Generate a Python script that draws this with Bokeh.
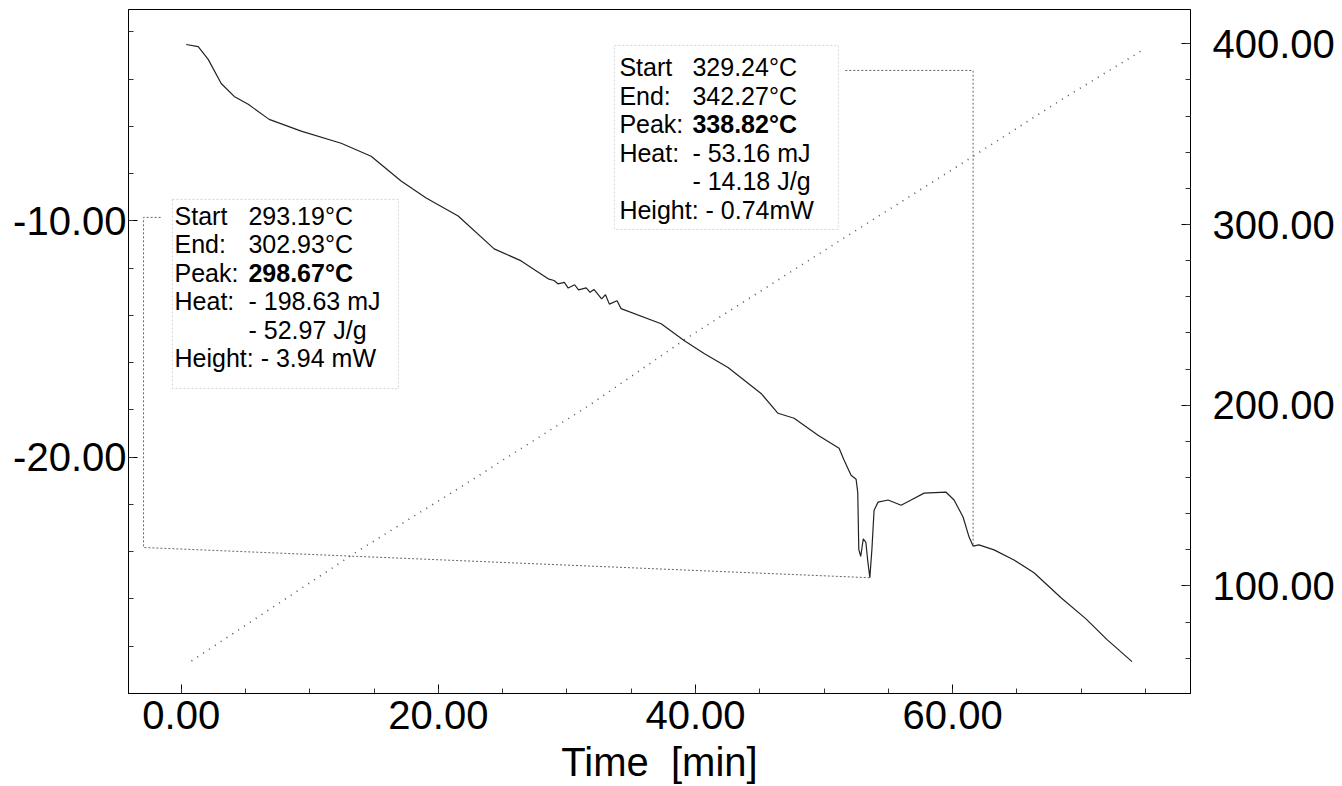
from bokeh.plotting import figure
from bokeh.models import Range1d, LinearAxis, FixedTicker, PrintfTickFormatter, Label, BoxAnnotation
from bokeh.embed import file_html
from bokeh.resources import INLINE

# ---------------- data ----------------
time_hf = [0.39, 1.32, 2.10, 3.11, 4.12, 5.21, 6.84, 9.33, 12.44, 14.77, 17.10, 19.05,
           21.54, 24.34, 26.44, 28.54, 29.0, 29.3, 29.8, 30.1, 30.6, 30.9, 31.5, 31.8,
           32.1, 32.7, 33.0, 33.3, 33.9, 34.21, 37.33, 39.11, 40.67, 42.53, 45.10, 46.42,
           47.67, 49.53, 51.17, 51.56, 52.10, 52.49, 52.62, 52.70, 52.85, 53.05, 53.25,
           53.40, 53.56, 53.72, 53.89, 54.20, 54.98, 55.99, 56.77, 57.78, 59.49, 60.11,
           60.81, 61.28, 61.59, 62.05, 63.22, 64.77, 66.33, 68.43, 70.37, 72.01, 73.95]
heat_flow = [-2.53, -2.62, -3.16, -4.18, -4.73, -5.06, -5.70, -6.20, -6.71, -7.26, -8.31, -9.03,
             -9.79, -11.18, -11.69, -12.45, -12.52, -12.66, -12.60, -12.84, -12.70, -12.92, -12.83, -13.02,
             -12.90, -13.30, -13.12, -13.52, -13.38, -13.71, -14.35, -15.06, -15.61, -16.20, -17.30, -18.14,
             -18.35, -19.07, -19.62, -20.13, -20.76, -20.93, -21.50, -23.90, -24.20, -23.45, -23.60,
             -24.40, -25.10, -23.90, -22.24, -21.90, -21.81, -22.03, -21.81, -21.52, -21.48, -21.81,
             -22.53, -23.38, -23.76, -23.71, -23.92, -24.35, -24.89, -25.95, -26.84, -27.72, -28.65]

time_temp = [0.8, 13.8, 21.8, 26.8, 31.7, 39.4, 51.2, 60.1, 68.6, 75.0]
temperature = [58.5, 119.6, 155.0, 177.7, 199.8, 237.5, 291.0, 331.0, 369.7, 397.5]

x_ticks = [0, 20, 40, 60]
x_minor = list(range(0, 80, 5))
left_ticks = [-20, -10]
left_minor = list(range(-28, 0, 2))
right_ticks = [100, 200, 300, 400]
right_minor = list(range(60, 420, 20))

peak1_rows = [("Start", "293.19°C"), ("End:", "302.93°C"), ("Peak:", "298.67°C"),
              ("Heat:", "- 198.63 mJ"), ("", "- 52.97 J/g"), ("Height: - 3.94 mW", "")]
peak2_rows = [("Start", "329.24°C"), ("End:", "342.27°C"), ("Peak:", "338.82°C"),
              ("Heat:", "- 53.16 mJ"), ("", "- 14.18 J/g"), ("Height: - 0.74mW", "")]

FONT = "Liberation Sans"

# ---------------- figure ----------------
p = figure(width=1342, height=786, x_range=Range1d(-4.1, 78.5), y_range=Range1d(-30.0, -1.05),
           output_backend="svg", toolbar_location=None,
           min_border_left=128, min_border_right=152, min_border_top=9, min_border_bottom=93)
p.extra_y_ranges = {"temp": Range1d(40.5, 419.0)}
p.grid.visible = False
p.outline_line_color = "black"
p.outline_line_width = 1
p.background_fill_color = "white"
p.border_fill_color = "white"

def style_axis(ax, ticks, minor, standoff):
    ax.ticker = FixedTicker(ticks=ticks, minor_ticks=minor)
    ax.formatter = PrintfTickFormatter(format="%.2f")
    ax.major_label_text_font = FONT
    ax.major_label_text_font_size = "40px"
    ax.major_label_text_color = "black"
    ax.major_label_standoff = standoff
    ax.major_tick_in = 9
    ax.major_tick_out = 0
    ax.minor_tick_in = 5
    ax.minor_tick_out = 0
    ax.axis_line_color = "black"
    ax.major_tick_line_color = "black"
    ax.minor_tick_line_color = "#333333"

xa = p.xaxis[0]
style_axis(xa, x_ticks, x_minor, 7)
xa.axis_label = "Time\u00a0 [min]"
xa.axis_label_text_font = FONT
xa.axis_label_text_font_size = "40px"
xa.axis_label_text_font_style = "normal"
xa.axis_label_text_color = "black"
xa.axis_label_standoff = 8

ya = p.yaxis[0]
style_axis(ya, left_ticks, left_minor, 2)

ra = LinearAxis(y_range_name="temp")
style_axis(ra, right_ticks, right_minor, 22)
p.add_layout(ra, "right")

# ---------------- curves ----------------
p.line(time_temp, temperature, y_range_name="temp", line_color="#555555", line_width=1.6,
       line_dash="1 6")
p.line(time_hf, heat_flow, line_color="#222222", line_width=1.2)

# peaks taken from the curve
def local_min(t0, t1):
    idx = [i for i, t in enumerate(time_hf) if t0 <= t <= t1]
    i = min(idx, key=lambda k: heat_flow[k])
    return time_hf[i], heat_flow[i]

pk1_t, pk1_h = local_min(52.0, 55.0)
pk2_t, pk2_h = local_min(60.0, 63.0)

# leader lines
p.line([-1.6, -2.93, -2.93, pk1_t], [-9.85, -9.85, -23.82, pk1_h],
       line_color="#666666", line_width=1, line_dash="2 2")
p.line([51.65, pk2_t, pk2_t], [-3.63, -3.63, pk2_h],
       line_color="#666666", line_width=1, line_dash="2 2")

# annotation boxes
for (l, r, b, t) in [(-0.68, 16.9, -17.09, -9.09), (33.69, 51.11, -10.36, -2.57)]:
    p.add_layout(BoxAnnotation(left=l, right=r, bottom=b, top=t, fill_alpha=0,
                               line_color="#777777", line_width=1, line_dash="2 2"))

def add_rows(rows, x_lab, x_val, y0, dy):
    for k, (lab, val) in enumerate(rows):
        y = y0 - k * dy
        if lab:
            p.add_layout(Label(x=x_lab, y=y, text=lab, text_font=FONT, text_font_size="25px",
                               text_baseline="middle", text_color="black"))
        if val:
            p.add_layout(Label(x=x_val, y=y, text=val, text_font=FONT, text_font_size="25px",
                               text_baseline="middle", text_color="black",
                               text_font_style="bold" if lab == "Peak:" else "normal"))

add_rows(peak1_rows, -0.52, 5.23, -9.77, 1.21)
add_rows(peak2_rows, 34.08, 39.76, -3.50, 1.207)

open("out.html", "w").write(file_html(p, INLINE))
